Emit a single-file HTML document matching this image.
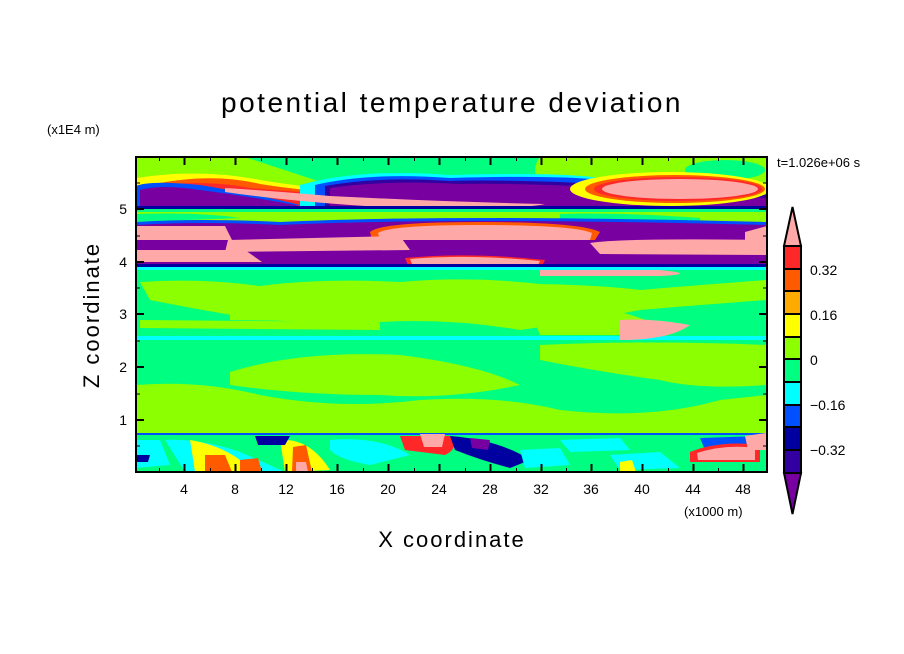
<!DOCTYPE html>
<html><head><meta charset="utf-8"><style>
body{margin:0;background:#fff;}
svg{display:block;font-family:"Liberation Sans",sans-serif;}
</style></head><body>
<svg width="904" height="654" viewBox="0 0 904 654" xmlns="http://www.w3.org/2000/svg">
<defs><clipPath id="c"><rect x="136" y="157" width="631" height="315"/></clipPath></defs>
<text x="452" y="112" font-size="28" text-anchor="middle" letter-spacing="2.5">potential temperature deviation</text>
<text x="47" y="134" font-size="13">(x1E4 m)</text>
<text x="777" y="167" font-size="13">t=1.026e+06 s</text>
<g clip-path="url(#c)">
<rect x="136" y="157" width="631" height="315" fill="#00ff80"/>
<rect x="136" y="157" width="631" height="67" fill="#8cff00"/>
<path d="M245 157 Q300 175 330 185 L540 185 Q530 170 540 157Z" fill="#00ff80"/>
<ellipse cx="725" cy="170" rx="40" ry="10" fill="#00ff80"/>
<path d="M136 178 Q200 168 260 180 Q350 195 545 205 L545 212 L136 212Z" fill="#ffff00"/>
<path d="M150 185 Q210 172 260 184 Q350 198 545 207 L545 212 L136 212Z" fill="#ff5a00"/>
<path d="M136 188 Q200 178 250 188 Q400 200 545 209 L136 212Z" fill="#ff2828"/>
<path d="M300 185 Q360 168 450 175 Q560 172 600 178 Q700 170 767 185 L767 212 L300 212Z" fill="#00ffff"/>
<path d="M315 185 Q370 172 450 178 Q560 175 600 180 L767 190 L767 212 L315 212Z" fill="#0050ff"/>
<path d="M325 186 Q380 176 450 181 Q560 178 767 195 L767 212 L325 212Z" fill="#3200a0"/>
<path d="M330 188 Q380 180 460 184 Q560 182 767 198 L767 210 L330 210Z" fill="#7800a0"/>
<path d="M136 186 Q150 180 200 185 Q260 195 300 205 L136 210Z" fill="#0050ff"/>
<path d="M140 190 Q160 184 200 190 Q260 198 300 206 L140 208Z" fill="#7800a0"/>
<path d="M225 188 Q260 190 330 196 Q450 202 545 204 Q520 210 400 208 Q300 203 225 192Z" fill="#ffa8a8"/>
<ellipse cx="670" cy="189" rx="100" ry="17" fill="#ffff00"/>
<ellipse cx="675" cy="189" rx="90" ry="14" fill="#ff5a00"/>
<ellipse cx="678" cy="189" rx="84" ry="12" fill="#ff2828"/>
<ellipse cx="680" cy="189" rx="78" ry="10" fill="#ffa8a8"/>
<rect x="136" y="206" width="631" height="3" fill="#0000a0"/>
<rect x="136" y="209" width="631" height="3" fill="#00ff80"/>
<path d="M136 214 Q200 212 240 218 L136 222Z" fill="#00ff80"/>
<path d="M560 214 Q620 212 700 218 L700 222 L560 222Z" fill="#00ff80"/>
<path d="M136 222 Q200 218 280 222 Q450 214 767 222 L767 266 L136 266Z" fill="#0050ff"/>
<path d="M136 225 Q200 221 280 225 Q450 217 767 225 L767 264 L136 264Z" fill="#7800a0"/>
<path d="M136 226 L225 226 L232 240 L136 240Z" fill="#ffa8a8"/>
<path d="M370 232 Q380 222 480 222 Q580 222 600 232 L595 240 L372 240Z" fill="#ff5a00"/>
<path d="M378 233 Q390 225 480 225 Q575 225 592 233 L590 240 L380 240Z" fill="#ffa8a8"/>
<path d="M745 232 L767 226 L767 242 L745 242Z" fill="#ffa8a8"/>
<path d="M228 240 L400 236 L410 250 L225 252Z" fill="#ffa8a8"/>
<path d="M590 243 Q620 238 767 240 L767 255 L600 254Z" fill="#ffa8a8"/>
<path d="M136 250 L245 250 L262 262 L136 262Z" fill="#ffa8a8"/>
<path d="M405 258 Q470 252 545 260 L540 270 L410 270Z" fill="#ff2828"/>
<path d="M410 259 Q470 254 540 261 L536 269 L414 269Z" fill="#ffa8a8"/>
<rect x="136" y="264" width="631" height="3" fill="#0000a0"/>
<rect x="136" y="267" width="631" height="3" fill="#00ffff"/>
<path d="M540 270 L660 270 Q700 274 660 276 L540 276Z" fill="#ffa8a8"/>
<path d="M140 282 Q200 278 260 286 Q320 278 400 282 Q470 276 540 284 Q600 285 640 290 Q700 285 767 280 L767 300 Q700 305 640 310 Q580 322 520 330 Q450 318 380 322 Q300 324 250 318 Q200 310 150 300Z" fill="#8cff00"/>
<path d="M230 296 Q300 300 360 305 L380 322 L230 320Z" fill="#8cff00"/>
<path d="M140 320 L380 322 L380 330 L140 328Z" fill="#8cff00"/>
<path d="M530 310 Q600 300 650 322 L640 335 L540 335Z" fill="#8cff00"/>
<rect x="136" y="336" width="631" height="4" fill="#00ffff"/>
<path d="M620 320 Q650 318 690 325 Q670 340 620 340Z" fill="#ffa8a8"/>
<path d="M540 345 Q650 340 767 345 L767 385 Q700 390 660 380 Q600 372 540 360Z" fill="#8cff00"/>
<path d="M230 372 Q300 350 400 355 Q480 365 520 385 Q450 400 380 395 Q300 395 230 385Z" fill="#8cff00"/>
<path d="M136 385 Q200 380 260 395 Q340 410 420 400 Q500 395 560 410 Q650 420 720 400 L767 395 L767 428 L136 428Z" fill="#8cff00"/>
<rect x="136" y="428" width="631" height="5" fill="#8cff00"/>
<rect x="136" y="433" width="631" height="39" fill="#00ff80"/>
<rect x="136" y="433" width="631" height="2" fill="#0050ff"/>
<path d="M136 440 L160 440 L170 465 L136 468Z" fill="#00ffff"/>
<path d="M136 455 L150 455 L148 462 L136 462Z" fill="#0000a0"/>
<path d="M165 440 Q200 438 240 452 Q270 465 285 472 L185 472Z" fill="#00ffff"/>
<path d="M190 440 Q220 445 240 460 L250 472 L195 472Z" fill="#ffff00"/>
<path d="M205 455 L225 455 L232 472 L205 472Z" fill="#ff5a00"/>
<path d="M240 460 L258 458 L262 472 L240 472Z" fill="#ff5a00"/>
<path d="M280 440 Q310 438 330 470 L285 472Z" fill="#ffff00"/>
<path d="M293 447 L306 445 L312 472 L292 472Z" fill="#ff5a00"/>
<path d="M296 462 L306 462 L308 472 L296 472Z" fill="#ffa8a8"/>
<path d="M330 440 Q380 436 410 455 L370 465 Q340 460 330 450Z" fill="#00ffff"/>
<path d="M255 436 L290 436 L285 445 L258 445Z" fill="#0000a0"/>
<path d="M400 436 L450 436 Q460 448 445 455 L405 450Z" fill="#ff2828"/>
<path d="M420 434 L445 434 L442 447 L424 447Z" fill="#ffa8a8"/>
<path d="M450 436 Q500 440 530 460 L510 468 Q480 460 455 450Z" fill="#0000a0"/>
<path d="M470 438 L490 440 L488 450 L472 448Z" fill="#7800a0"/>
<path d="M520 450 L560 448 L570 465 L525 468Z" fill="#00ffff"/>
<path d="M560 440 L620 438 L630 450 L570 452Z" fill="#00ffff"/>
<path d="M610 455 L660 452 L680 468 L620 470Z" fill="#00ffff"/>
<path d="M620 462 L632 460 L636 472 L620 472Z" fill="#ffff00"/>
<path d="M700 438 L760 436 L765 448 L705 450Z" fill="#0050ff"/>
<path d="M690 452 Q720 440 760 445 L760 462 L690 462Z" fill="#ff2828"/>
<path d="M697 453 Q725 444 755 448 L755 460 L698 460Z" fill="#ffa8a8"/>
<path d="M745 436 L766 433 L767 450 L748 450Z" fill="#ffa8a8"/>
</g>
<rect x="136" y="157" width="631" height="315" fill="none" stroke="#000" stroke-width="2"/>
<g stroke="#000" stroke-width="2">
<path d="M184.5 472v-8M235.5 472v-8M286.5 472v-8M337.5 472v-8M388.5 472v-8M439.5 472v-8M490.5 472v-8M541.5 472v-8M591.5 472v-8M642.5 472v-8M693.5 472v-8M743.5 472v-8"/>
<path d="M184.5 157v8M235.5 157v8M286.5 157v8M337.5 157v8M388.5 157v8M439.5 157v8M490.5 157v8M541.5 157v8M591.5 157v8M642.5 157v8M693.5 157v8M743.5 157v8"/>
<path d="M136 209h8M136 262h8M136 314h8M136 367h8M136 420h8M767 209h-8M767 262h-8M767 314h-8M767 367h-8M767 420h-8"/>
</g>
<g stroke="#000" stroke-width="1">
<path d="M159.5 472v-4M210.5 472v-4M261.5 472v-4M312.5 472v-4M363.5 472v-4M414.5 472v-4M465.5 472v-4M516.5 472v-4M566.5 472v-4M617.5 472v-4M668.5 472v-4M718.5 472v-4"/>
<path d="M159.5 157v4M210.5 157v4M261.5 157v4M312.5 157v4M363.5 157v4M414.5 157v4M465.5 157v4M516.5 157v4M566.5 157v4M617.5 157v4M668.5 157v4M718.5 157v4"/>
<path d="M136 183h4M136 236h4M136 288h4M136 341h4M136 394h4M136 446h4M767 183h-4M767 236h-4M767 288h-4M767 341h-4M767 394h-4M767 446h-4"/>
</g>
<g font-size="14" text-anchor="middle">
<text x="184" y="494">4</text><text x="235" y="494">8</text><text x="286" y="494">12</text><text x="337" y="494">16</text><text x="388" y="494">20</text><text x="439" y="494">24</text><text x="490" y="494">28</text><text x="541" y="494">32</text><text x="591" y="494">36</text><text x="642" y="494">40</text><text x="693" y="494">44</text><text x="743" y="494">48</text>
</g>
<g font-size="14" text-anchor="end">
<text x="127" y="214">5</text><text x="127" y="267">4</text><text x="127" y="319">3</text><text x="127" y="372">2</text><text x="127" y="425">1</text>
</g>
<text x="684" y="516" font-size="13">(x1000 m)</text>
<text x="452" y="547" font-size="22" text-anchor="middle" letter-spacing="2">X coordinate</text>
<text transform="translate(99 315) rotate(-90)" font-size="22" text-anchor="middle" letter-spacing="2">Z coordinate</text>
<g stroke="#000" stroke-width="2">
<polygon points="784,246 801,246 792.5,207" fill="#ffa8a8"/>
<polygon points="784,473 801,473 792.5,514" fill="#7800a0"/>
<rect x="784" y="246" width="17" height="23" fill="#ff2828"/>
<rect x="784" y="269" width="17" height="22" fill="#ff5a00"/>
<rect x="784" y="291" width="17" height="23" fill="#ffaa00"/>
<rect x="784" y="314" width="17" height="23" fill="#ffff00"/>
<rect x="784" y="337" width="17" height="22" fill="#8cff00"/>
<rect x="784" y="359" width="17" height="23" fill="#00ff80"/>
<rect x="784" y="382" width="17" height="23" fill="#00ffff"/>
<rect x="784" y="405" width="17" height="22" fill="#0050ff"/>
<rect x="784" y="427" width="17" height="23" fill="#0000a0"/>
<rect x="784" y="450" width="17" height="23" fill="#3200a0"/>
</g>
<g font-size="14">
<text x="810" y="275">0.32</text><text x="810" y="320">0.16</text><text x="810" y="365">0</text><text x="810" y="410">−0.16</text><text x="810" y="455">−0.32</text>
</g>
</svg>
</body></html>
